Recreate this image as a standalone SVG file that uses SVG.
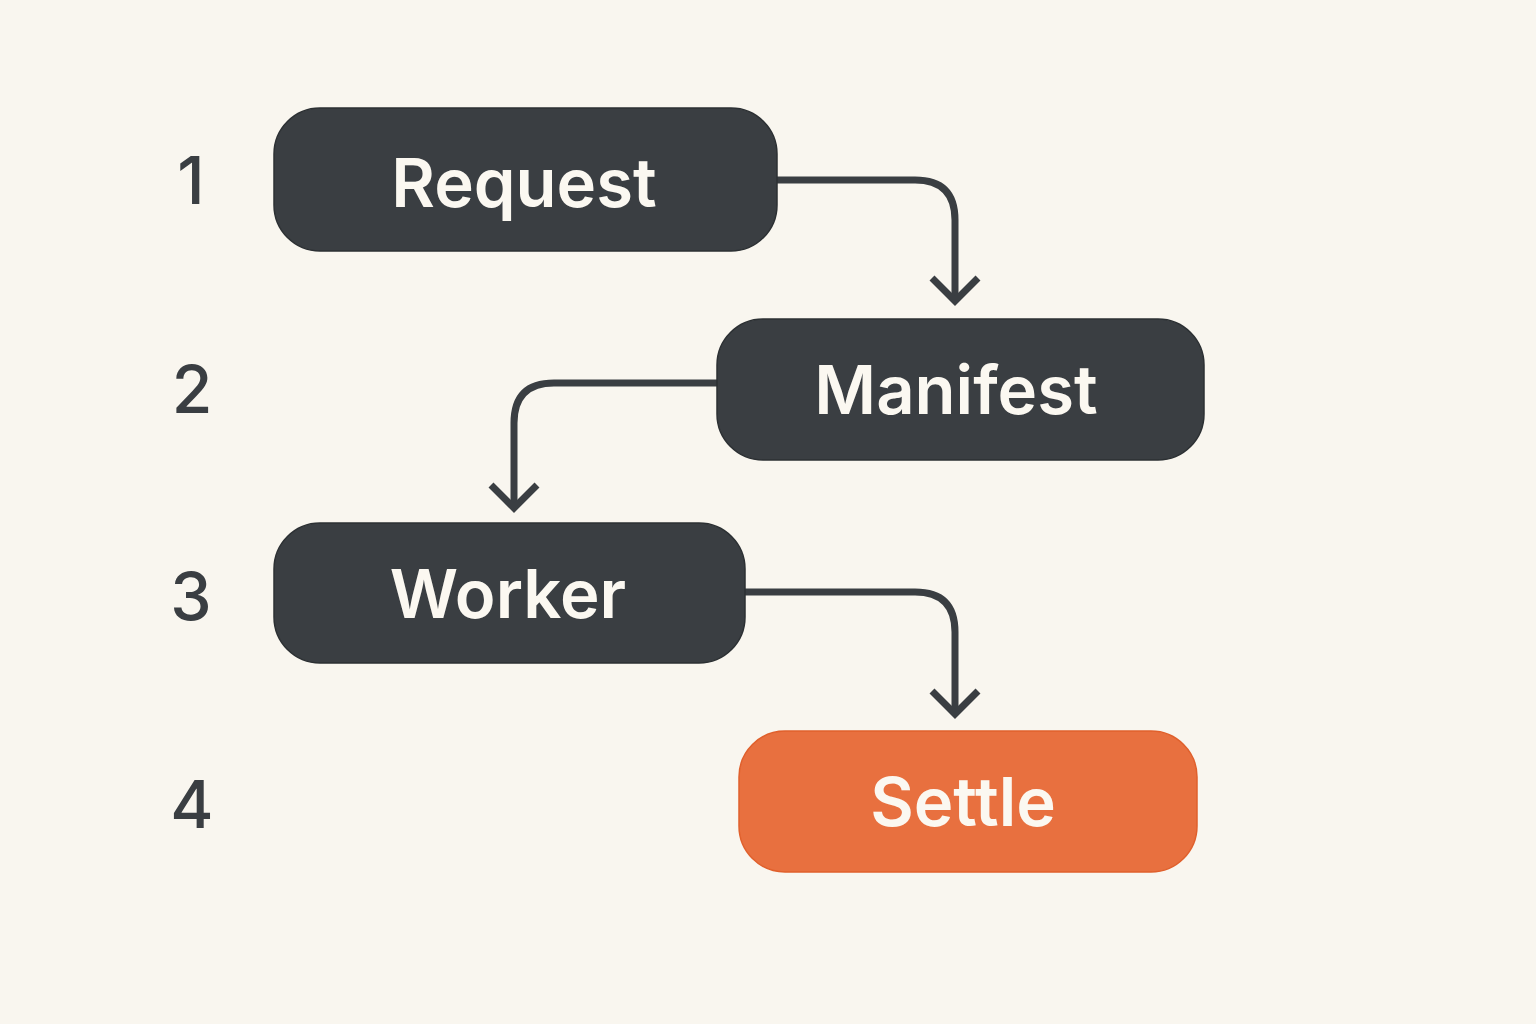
<svg xmlns="http://www.w3.org/2000/svg" width="1536" height="1024" viewBox="0 0 1536 1024">
<defs>
<style>
.box{fill:#3a3e42;stroke:#2c3033;stroke-width:1.5}
.accent{fill:#e8703f;stroke:#e0602c;stroke-width:1.5}
.lbl{font-family:Inter,"Noto Sans",sans-serif;font-weight:600;font-size:67px;fill:#fbf8f1;text-anchor:middle;dominant-baseline:central}
.num{font-family:Inter,"Liberation Sans",sans-serif;font-weight:500;font-size:66px;fill:#3a3e42;text-anchor:middle;dominant-baseline:central}
.edge{fill:none;stroke:#3a3e42;stroke-width:7;stroke-linecap:butt;stroke-linejoin:round}
.head{fill:none;stroke:#3a3e42;stroke-width:7;stroke-linejoin:miter}
</style>
</defs>
<rect width="1536" height="1024" fill="#f9f6ef"/>
<g id="row-numbers">
<text class="num" x="191" y="180">1</text>
<text class="num" x="192" y="389">2</text>
<text class="num" x="191" y="596">3</text>
<text class="num" x="192" y="804">4</text>
</g>
<g id="connectors">
<path class="edge" d="M777,180 H915 Q955,180 955,220 V298"/>
<polyline class="head" points="932,278 955,301 978,278"/>
<path class="edge" d="M717,383 H554 Q514,383 514,423 V505"/>
<polyline class="head" points="491,485 514,508 537,485"/>
<path class="edge" d="M745,592 H915 Q955,592 955,632 V712"/>
<polyline class="head" points="932,691 955,714 978,691"/>
</g>
<g id="node-request">
<rect class="box" x="274" y="108" width="503" height="143" rx="46"/>
<text class="lbl" x="524" y="182">Request</text>
</g>
<g id="node-manifest">
<rect class="box" x="717" y="319" width="487" height="141" rx="46"/>
<text class="lbl" x="956" y="389">Manifest</text>
</g>
<g id="node-worker">
<rect class="box" x="274" y="523" width="471" height="140" rx="46"/>
<text class="lbl" x="508" y="593">Worker</text>
</g>
<g id="node-settle">
<rect class="accent" x="739" y="731" width="458" height="141" rx="46"/>
<text class="lbl" x="963" y="801">Settle</text>
</g>
</svg>
